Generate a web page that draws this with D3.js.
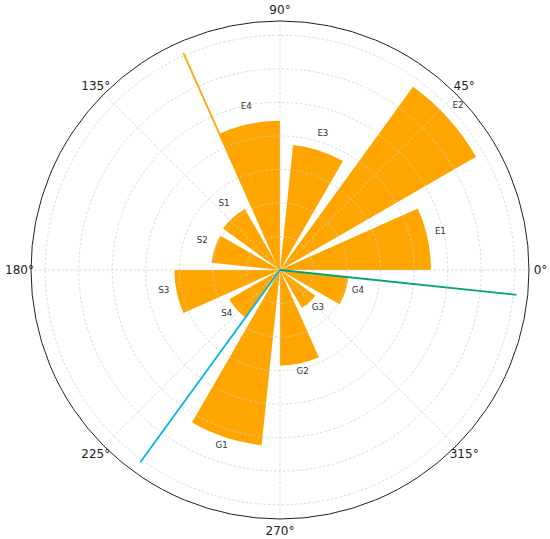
<!DOCTYPE html>
<html>
<head>
<meta charset="utf-8">
<script src="https://cdn.jsdelivr.net/npm/d3@7"></script>
<style>
  html, body { margin: 0; padding: 0; background: #fff; }
  svg { display: block; }
</style>
</head>
<body>
<svg id="chart" width="550" height="539"></svg>
<script>
// ---- data ----
const categories = ["E1","E2","E3","E4","S1","S2","S3","S4","G1","G2","G3","G4"];
const startAngles = [0,30,60,90,120,150,180,210,240,270,300,330]; // degrees
const barWidthDeg = 24;
const values = [0.90,1.35,0.75,0.89,0.42,0.41,0.63,0.35,1.05,0.57,0.26,0.41];
const lineAngles = [114,234,354];           // degrees
const lineLengths = [1.4175,1.4175,1.4175];
const lineColors = ["#ffa500","#00b4e6","#00a37a"];
const radialTicks = [0.2,0.4,0.6,0.8,1.0,1.2,1.4];
const angleTicks = [0,45,90,135,180,225,270,315];
const rMax = 1.485;

// ---- layout ----
const svg = d3.select("#chart");
const cx = 280, cy = 270, R = 249;
const r = d3.scaleLinear().domain([0, rMax]).range([0, R]);
const rad = d => d * Math.PI / 180;
const px = (deg, rv) => cx + r(rv) * Math.cos(rad(deg));
const py = (deg, rv) => cy - r(rv) * Math.sin(rad(deg));

const g = svg.append("g");

// bars
const arc = d3.arc();
g.append("g").selectAll("path").data(categories).join("path")
  .attr("transform", `translate(${cx},${cy})`)
  .attr("d", (d, i) => arc({
    innerRadius: 0,
    outerRadius: r(values[i]),
    startAngle: Math.PI/2 - rad(startAngles[i] + barWidthDeg),
    endAngle: Math.PI/2 - rad(startAngles[i])
  }))
  .attr("fill", "#ffa500");

// grid (drawn above bars, as in matplotlib)
const grid = g.append("g").attr("fill", "none").attr("stroke", "#cfcfcf")
  .attr("stroke-width", 0.8).attr("stroke-dasharray", "2.5,2");
grid.selectAll("circle").data(radialTicks).join("circle")
  .attr("cx", cx).attr("cy", cy).attr("r", d => r(d));
grid.selectAll("line").data(angleTicks).join("line")
  .attr("x1", cx).attr("y1", cy)
  .attr("x2", d => px(d, rMax)).attr("y2", d => py(d, rMax));

// lines
g.append("g").selectAll("line").data(lineAngles).join("line")
  .attr("x1", cx).attr("y1", cy)
  .attr("x2", (d, i) => px(d, lineLengths[i]))
  .attr("y2", (d, i) => py(d, lineLengths[i]))
  .attr("stroke", (d, i) => lineColors[i])
  .attr("stroke-width", 1.8);

// outer frame
g.append("circle").attr("cx", cx).attr("cy", cy).attr("r", R)
  .attr("fill", "none").attr("stroke", "#222").attr("stroke-width", 1);

// bar labels
g.append("g").selectAll("text").data(categories).join("text")
  .attr("x", (d, i) => px(startAngles[i] + barWidthDeg/2, values[i] + 0.078))
  .attr("y", (d, i) => py(startAngles[i] + barWidthDeg/2, values[i] + 0.078) - 5)
  .attr("text-anchor", "middle").attr("dominant-baseline", "central")
  .attr("font-family", "DejaVu Sans").attr("font-size", 8.7)
  .attr("fill", "#333")
  .text(d => d);

// angle labels
g.append("g").selectAll("text").data(angleTicks).join("text")
  .attr("x", d => cx + (R + 11.5) * Math.cos(rad(d)))
  .attr("y", d => cy - (R + 11.5) * Math.sin(rad(d)))
  .attr("text-anchor", "middle").attr("dominant-baseline", "central")
  .attr("font-family", "DejaVu Sans").attr("font-size", 12)
  .attr("fill", "#222")
  .text(d => d + "°");
</script>
</body>
</html>
